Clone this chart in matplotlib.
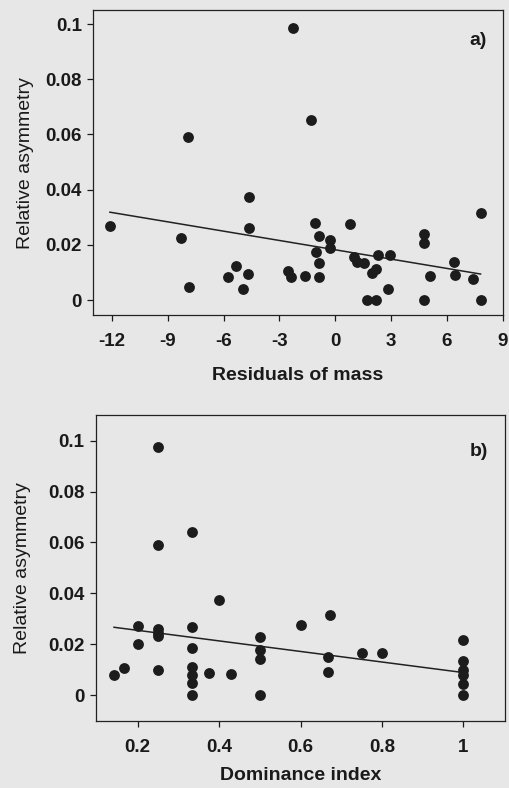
import numpy as np
import matplotlib
matplotlib.use('Agg')
import matplotlib.pyplot as plt

plt.rcParams['font.family'] = ['Liberation Sans', 'DejaVu Sans']
plt.rcParams['font.weight'] = 'bold'

# panel a) residuals of mass vs relative asymmetry
mass_x = [-12.1, -8.3, -7.9, -7.85, -5.77, -5.35, -4.98, -4.7, -4.65, -4.65,
          -2.55, -2.38, -2.27, -1.6, -1.3, -1.1, -1.05, -0.9, -0.9, -0.9,
          -0.29, -0.29, 0.79, 1.0, 1.15, 1.52, 1.69, 1.99, 2.19, 2.19,
          2.28, 2.82, 2.92, 4.74, 4.74, 4.74, 5.06, 6.37, 6.43, 7.4, 7.8, 7.8]
mass_y = [0.0268, 0.0225, 0.0592, 0.0046, 0.0082, 0.0122, 0.0041, 0.0094, 0.0374, 0.026,
          0.0105, 0.0082, 0.0987, 0.0086, 0.0652, 0.028, 0.0173, 0.0232, 0.0133, 0.0082,
          0.0217, 0.0187, 0.0275, 0.0155, 0.0139, 0.0133, 0.0, 0.0097, 0.0111, 0.0,
          0.0163, 0.004, 0.0163, 0.024, 0.0207, 0.0, 0.0087, 0.0136, 0.0091, 0.0077, 0.0314, 0.0]
fit_a = (0.0182, -0.001126)   # intercept, slope

# panel b) dominance index vs relative asymmetry
dom_x = [0.142, 0.166, 0.2, 0.2, 0.25, 0.25, 0.25, 0.25, 0.25, 0.25,
         0.333, 0.333, 0.333, 0.333, 0.333, 0.333, 0.333, 0.375, 0.4, 0.43,
         0.5, 0.5, 0.5, 0.5, 0.6, 0.673, 0.667, 0.667, 0.75, 0.8,
         1.0, 1.0, 1.0, 1.0, 1.0, 1.0]
dom_y = [0.008, 0.0107, 0.0273, 0.0202, 0.0974, 0.0591, 0.026, 0.0246, 0.0231, 0.0098,
         0.0641, 0.0267, 0.0185, 0.011, 0.0077, 0.0047, 0.0, 0.0088, 0.0372, 0.0083,
         0.0228, 0.0176, 0.014, 0.0, 0.0274, 0.0314, 0.0149, 0.0089, 0.0165, 0.0165,
         0.0215, 0.0135, 0.01, 0.008, 0.0045, 0.0]
fit_b = (0.0296, -0.02075)

bg = '#e7e7e7'
dot = '#1c1c1c'

fig = plt.figure(figsize=(5.09, 7.88), dpi=100)
fig.patch.set_facecolor(bg)


def panel(ax, x, y, fit, xlim, ylim, xticks, xlabels, xlabel, tag, tagy, ylpad, xlpad):
    ax.set_facecolor(bg)
    ax.plot(x, y, 'o', color=dot, markersize=7.8, markeredgewidth=0, zorder=3)
    xs = np.array([min(x), max(x)])
    ax.plot(xs, fit[0] + fit[1] * xs, color='#222222', lw=1.1, zorder=2)
    ax.set_xlim(*xlim)
    ax.set_ylim(*ylim)
    ax.set_xticks(xticks)
    ax.set_xticklabels(xlabels)
    ax.set_yticks([0, 0.02, 0.04, 0.06, 0.08, 0.1])
    ax.set_yticklabels(['0', '0.02', '0.04', '0.06', '0.08', '0.1'])
    ax.tick_params(direction='out', length=4, width=0.9,
                   labelsize=13.5, colors='#1a1a1a')
    ax.tick_params(axis='x', pad=9)
    ax.tick_params(axis='y', pad=4)
    for s in ax.spines.values():
        s.set_linewidth(0.9)
        s.set_color('#222222')
    ax.set_xlabel(xlabel, fontsize=14, fontweight='bold', labelpad=xlpad, color='#1a1a1a')
    ax.set_ylabel('Relative asymmetry', fontsize=14, fontweight='normal',
                  labelpad=ylpad, color='#1a1a1a')
    ax.text(0.96, tagy, tag, transform=ax.transAxes, ha='right', va='center',
            fontsize=14, fontweight='bold', color='#1a1a1a')


ax1 = fig.add_axes([0.183, 0.600, 0.805, 0.387])
panel(ax1, mass_x, mass_y, fit_a, (-13, 9), (-0.0055, 0.105),
      [-12, -9, -6, -3, 0, 3, 6, 9], ['-12', '-9', '-6', '-3', '0', '3', '6', '9'],
      'Residuals of mass', 'a)', 0.9, 8, 12)

ax2 = fig.add_axes([0.188, 0.085, 0.804, 0.388])
panel(ax2, dom_x, dom_y, fit_b, (0.097, 1.102), (-0.0102, 0.110),
      [0.2, 0.4, 0.6, 0.8, 1.0], ['0.2', '0.4', '0.6', '0.8', '1'],
      'Dominance index', 'b)', 0.88, 12, 8)

fig.savefig('out.png', dpi=100, facecolor=bg)
